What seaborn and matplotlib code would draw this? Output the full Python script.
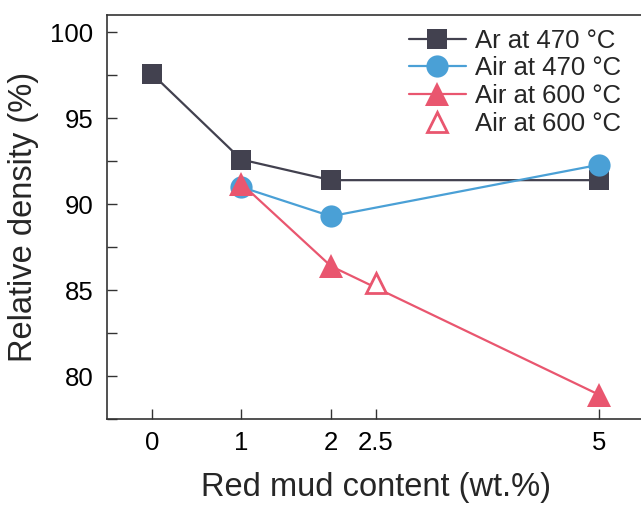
import numpy as np
import pandas as pd
import matplotlib
matplotlib.use("Agg")
import matplotlib.pyplot as plt
from matplotlib.ticker import MultipleLocator
import seaborn as sns

# values
ar470_x = [0, 1, 2, 5]
ar470_y = [97.6, 92.6, 91.4, 91.4]
air470_x = [1, 2, 5]
air470_y = [91.0, 89.3, 92.3]
air600_x = [1, 2, 5]
air600_y = [91.2, 86.4, 78.9]
air600_open_x = [2.5]
air600_open_y = [85.4]
xticks = [0, 1, 2, 2.5, 5]
xtick_labels = ["0", "1", "2", "2.5", "5"]
yticks = [80, 85, 90, 95, 100]

dark = "#42414f"
blue = "#4aa0d6"
red = "#e9566f"

sns.set_style("ticks")
plt.rcParams["font.family"] = ["Liberation Sans", "DejaVu Sans"]

fig = plt.figure(figsize=(6.41, 5.07), dpi=100)
ax = fig.add_axes([0.167, 0.1736, 0.838, 0.7964])

sns.lineplot(x=ar470_x, y=ar470_y, ax=ax, color=dark, marker="s", markersize=15,
             markeredgewidth=0, linewidth=1.6, label="Ar at 470 °C")
sns.lineplot(x=air470_x, y=air470_y, ax=ax, color=blue, marker="o", markersize=16,
             markeredgewidth=0, linewidth=1.6, label="Air at 470 °C")
sns.lineplot(x=air600_x, y=air600_y, ax=ax, color=red, marker="^", markersize=17,
             markeredgewidth=0, linewidth=1.6, label="Air at 600 °C")
sns.lineplot(x=air600_open_x, y=air600_open_y, ax=ax, color=red, marker="^",
             markersize=15, markerfacecolor="white", markeredgecolor=red,
             markeredgewidth=2, linestyle="none", label="Air at 600 °C")

ax.set_xlim(-0.5, 5.5)
ax.set_ylim(77.5, 101)
ax.set_xticks(xticks)
ax.set_xticklabels(xtick_labels)
ax.set_yticks(yticks)
ax.yaxis.set_minor_locator(MultipleLocator(2.5))
ax.tick_params(which="both", direction="in", length=7, width=1, labelsize=18.5,
               colors="#333333", labelcolor="black")
ax.tick_params(axis="x", pad=9)
ax.tick_params(axis="y", pad=10)
for side in ["left", "bottom", "top", "right"]:
    ax.spines[side].set_color("#333333")
    ax.spines[side].set_linewidth(1.2)
ax.spines["right"].set_visible(False)

ax.set_xlabel("Red mud content (wt.%)", fontsize=23.5, labelpad=12)
ax.set_ylabel("Relative density (%)", fontsize=23.5, labelpad=8)

ax.legend(loc="upper right", bbox_to_anchor=(0.985, 1.005), frameon=False,
          fontsize=18.5, handlelength=2.2, handletextpad=0.35, labelspacing=0.15,
          borderaxespad=0.2)

fig.savefig("out.png", dpi=100)
